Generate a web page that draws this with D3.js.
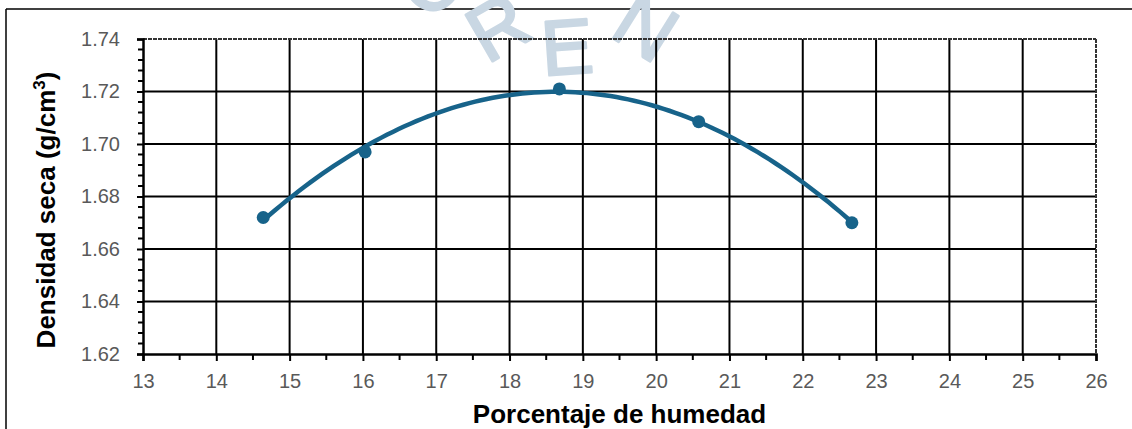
<!DOCTYPE html>
<html>
<head>
<meta charset="utf-8">
<script src="https://cdn.jsdelivr.net/npm/d3@7"></script>
<style>
  html, body { margin: 0; padding: 0; background: #fff; }
  svg { display: block; }
</style>
</head>
<body>
<svg id="chart" width="1132" height="429"></svg>
<script>
// ---- data ----
const moisture = [14.64, 16.03, 18.68, 20.58, 22.67];
const density  = [1.672, 1.697, 1.721, 1.7085, 1.670];
const xTicks = [13, 14, 15, 16, 17, 18, 19, 20, 21, 22, 23, 24, 25, 26];
const yTicks = [1.62, 1.64, 1.66, 1.68, 1.70, 1.72, 1.74];
const xTitle = "Porcentaje de humedad";
const yTitle = "Densidad seca (g/cm";
const watermark = ["O", "R", "E", "N"];

// ---- layout ----
const W = 1132, H = 429;
const pL = 143, pR = 1096, pT = 39, pB = 354;
const svg = d3.select("#chart");
const font = "'Liberation Sans', Arial, sans-serif";
const lineColor = "#17638a";

const x = d3.scaleLinear().domain([13, 26]).range([pL, pR]);
const y = d3.scaleLinear().domain([1.62, 1.74]).range([pB, pT]);

// outer frame
svg.append("line").attr("x1", 6).attr("x2", 6).attr("y1", 9).attr("y2", H)
  .attr("stroke", "#000").attr("stroke-width", 1.5);
svg.append("line").attr("x1", 6).attr("x2", W).attr("y1", 9).attr("y2", 9)
  .attr("stroke", "#000").attr("stroke-width", 1.5);

// watermark letters (partly cut by the top edge, as in the reference)
const wm = svg.append("g").attr("fill", "#c9d7e3").attr("stroke", "#c9d7e3")
  .attr("stroke-width", 2.5).attr("stroke-linejoin", "round")
  .attr("font-family", font).attr("font-size", 78);
const wmPos = [[432, -18, -45], [498, 27, -30], [567, 47, -4], [646, 27, 32]];
watermark.forEach((ch, i) => {
  const [cx, cy, r] = wmPos[i];
  wm.append("text").attr("text-anchor", "middle").attr("dominant-baseline", "central")
    .attr("transform", `translate(${cx},${cy}) rotate(${r})`)
    .text(ch);
});

// gridlines
const grid = svg.append("g").attr("stroke", "#000").attr("stroke-width", 2);
grid.selectAll(".vg").data(xTicks.slice(1, -1)).join("line")
  .attr("x1", d => x(d)).attr("x2", d => x(d)).attr("y1", pT).attr("y2", pB);
grid.selectAll(".hg").data(yTicks.slice(1, -1)).join("line")
  .attr("x1", pL).attr("x2", pR).attr("y1", d => y(d)).attr("y2", d => y(d));

// top and right border (dashed)
svg.append("line").attr("x1", pL).attr("x2", pR).attr("y1", pT).attr("y2", pT)
  .attr("stroke", "#333").attr("stroke-width", 2).attr("stroke-dasharray", "4,1");
svg.append("line").attr("x1", pR).attr("x2", pR).attr("y1", pT).attr("y2", pB)
  .attr("stroke", "#333").attr("stroke-width", 2).attr("stroke-dasharray", "4,1");

// y axis
const yAxis = d3.axisLeft(y).tickValues(yTicks).tickFormat(d3.format(".2f")).tickSize(6).tickPadding(17);
const gy = svg.append("g").attr("transform", `translate(${pL},0)`).call(yAxis);
// minor y ticks
const yMinor = d3.range(0, 31).map(i => 1.62 + i * 0.004).filter((d, i) => i % 5 !== 0);
svg.append("g").selectAll("line").data(yMinor).join("line")
  .attr("x1", pL - 5).attr("x2", pL).attr("y1", d => y(d)).attr("y2", d => y(d))
  .attr("stroke", "#000").attr("stroke-width", 2);

// x axis
const xAxis = d3.axisBottom(x).tickValues(xTicks).tickFormat(d3.format("d")).tickSize(7).tickPadding(13);
const gx = svg.append("g").attr("transform", `translate(0,${pB})`).call(xAxis);
const xMinor = xTicks.slice(0, -1).map(d => d + 0.5);
svg.append("g").selectAll("line").data(xMinor).join("line")
  .attr("x1", d => x(d)).attr("x2", d => x(d)).attr("y1", pB).attr("y2", pB + 6)
  .attr("stroke", "#000").attr("stroke-width", 2);

[gx, gy].forEach(g => {
  g.select(".domain").attr("stroke", "#000").attr("stroke-width", 2.5);
  g.selectAll(".tick line").attr("stroke", "#000").attr("stroke-width", 2);
  g.selectAll(".tick text").attr("fill", "#595959").attr("font-size", 20).attr("font-family", font);
});

// quadratic trendline (least squares fit of the data)
function polyfit2(xs, ys) {
  const n = xs.length;
  let s = [0, 0, 0, 0, 0], t = [0, 0, 0];
  for (let i = 0; i < n; i++) {
    let p = 1;
    for (let k = 0; k < 5; k++) { s[k] += p; if (k < 3) t[k] += p * ys[i]; p *= xs[i]; }
  }
  const A = [[s[0], s[1], s[2], t[0]], [s[1], s[2], s[3], t[1]], [s[2], s[3], s[4], t[2]]];
  for (let i = 0; i < 3; i++) {
    for (let j = i + 1; j < 3; j++) {
      const f = A[j][i] / A[i][i];
      for (let k = i; k < 4; k++) A[j][k] -= f * A[i][k];
    }
  }
  const c = [0, 0, 0];
  for (let i = 2; i >= 0; i--) {
    let v = A[i][3];
    for (let k = i + 1; k < 3; k++) v -= A[i][k] * c[k];
    c[i] = v / A[i][i];
  }
  return c;
}
const coef = polyfit2(moisture, density);
const [xmin, xmax] = d3.extent(moisture);
const fitX = d3.range(0, 101).map(i => xmin + (xmax - xmin) * i / 100);
const fitPts = fitX.map(v => [v, coef[0] + coef[1] * v + coef[2] * v * v]);
svg.append("path").datum(fitPts)
  .attr("d", d3.line().x(d => x(d[0])).y(d => y(d[1])))
  .attr("fill", "none").attr("stroke", lineColor).attr("stroke-width", 4.5)
  .attr("stroke-linecap", "round");

// points
svg.append("g").selectAll("circle").data(moisture).join("circle")
  .attr("cx", d => x(d)).attr("cy", (d, i) => y(density[i])).attr("r", 6.5)
  .attr("fill", lineColor);

// axis titles
svg.append("text").attr("x", (pL + pR) / 2).attr("y", 423)
  .attr("text-anchor", "middle").attr("font-family", font).attr("font-weight", "bold")
  .attr("font-size", 26).attr("fill", "#000").text(xTitle);

const yt = svg.append("text")
  .attr("transform", "translate(55,210) rotate(-90)")
  .attr("text-anchor", "middle").attr("font-family", font).attr("font-weight", "bold")
  .attr("font-size", 26).attr("fill", "#000");
yt.append("tspan").text(yTitle);
yt.append("tspan").attr("font-size", 17).attr("dy", -10).text("3");
yt.append("tspan").attr("dy", 10).text(")");
</script>
</body>
</html>
